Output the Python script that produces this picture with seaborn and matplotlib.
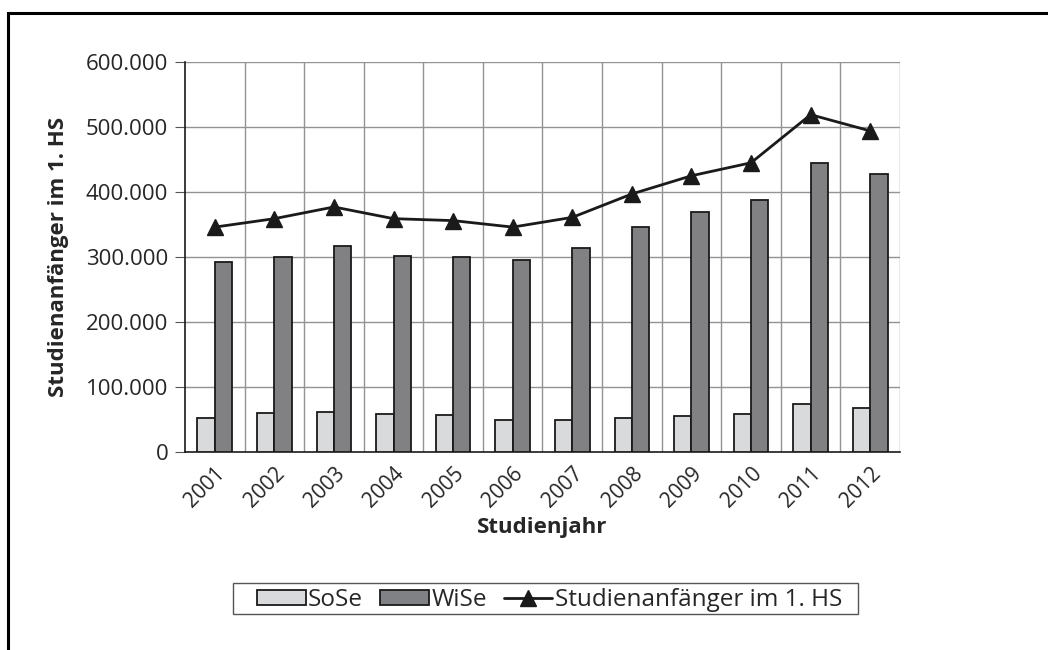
import pandas as pd
import seaborn as sns
import matplotlib.pyplot as plt
from matplotlib.patches import Patch, Rectangle
from matplotlib.lines import Line2D
from matplotlib.ticker import FuncFormatter, FixedLocator

jahre = ['2001', '2002', '2003', '2004', '2005', '2006',
         '2007', '2008', '2009', '2010', '2011', '2012']
sose = [53000, 60000, 61500, 58500, 56500, 50000,
        48500, 52000, 55500, 58000, 74000, 68000]
wise = [293000, 300500, 317000, 301000, 300000, 296000,
        314000, 345500, 369000, 387000, 445000, 428000]
gesamt = [346000, 359000, 377000, 359000, 356000, 346000,
          361000, 397000, 425000, 445000, 519000, 494000]

sns.set_style('white')
plt.rcParams['font.family'] = ['Open Sans', 'DejaVu Sans']

df = pd.DataFrame({'Jahr': jahre * 2,
                   'Wert': sose + wise,
                   'Semester': ['SoSe'] * len(jahre) + ['WiSe'] * len(jahre)})

farben = {'SoSe': '#d9dadc', 'WiSe': '#808184'}
fs = 16

fig = plt.figure(figsize=(10.48, 6.5), dpi=100)
ax = fig.add_axes([0.1765, 0.3046, 0.6823, 0.6])

sns.barplot(data=df, x='Jahr', y='Wert', hue='Semester', palette=farben,
            width=0.58, edgecolor='#1a1a1a', linewidth=1.3, ax=ax,
            legend=False, zorder=3)

ax.plot(range(len(jahre)), gesamt, color='#1a1a1a', lw=2,
        marker='^', markersize=12, zorder=4)

ax.set_xlim(-0.5, len(jahre) - 0.5)
ax.set_ylim(0, 600000)
ax.yaxis.set_major_locator(FixedLocator(range(0, 600001, 100000)))
ax.yaxis.set_major_formatter(FuncFormatter(lambda v, p: f'{int(v):,}'.replace(',', '.')))

# Gitter
for y in range(100000, 600001, 100000):
    ax.axhline(y, color='#939393', lw=1, zorder=1)
for i in range(len(jahre)):
    ax.axvline(i + 0.5, color='#939393', lw=1, zorder=1)

ax.set_xticks(range(len(jahre)))
ax.set_xticklabels(jahre, rotation=45, ha='right', rotation_mode='anchor')
ax.set_xticks([i - 0.5 for i in range(len(jahre) + 1)], minor=True)
ax.tick_params(axis='x', which='major', length=0, pad=8, labelsize=15)
ax.tick_params(axis='x', which='minor', length=7, color='#555555', width=1)
ax.tick_params(axis='y', which='major', length=7, color='#555555', labelsize=fs,
               left=True, pad=5)

for s in ['top', 'right']:
    ax.spines[s].set_visible(False)
ax.spines['left'].set_color('#1a1a1a')
ax.spines['bottom'].set_color('#1a1a1a')
ax.spines['left'].set_linewidth(1.2)
ax.spines['bottom'].set_linewidth(1.2)

ax.set_xlabel('Studienjahr', fontsize=fs, fontweight='bold', labelpad=4)
ax.set_ylabel('Studienanfänger im 1. HS', fontsize=fs, fontweight='bold', labelpad=12)

handles = [Patch(facecolor=farben['SoSe'], edgecolor='#1a1a1a', lw=1.3),
           Patch(facecolor=farben['WiSe'], edgecolor='#1a1a1a', lw=1.3),
           Line2D([], [], color='#1a1a1a', lw=2, marker='^', markersize=12)]
leg = fig.legend(handles, ['SoSe', 'WiSe', 'Studienanfänger im 1. HS'],
                 loc='center', bbox_to_anchor=(0.5245, 0.077), ncol=3,
                 fontsize=17.5, frameon=False,
                 handlelength=2.0, handleheight=0.6, handletextpad=0.1,
                 columnspacing=0.7, borderpad=0.2)

# Legendenrahmen (breiter als der Inhalt, wie im Original)
fig.add_artist(Rectangle((233 / 1048, 1 - 614 / 650), 625 / 1048, 31 / 650,
                         transform=fig.transFigure, fill=False,
                         edgecolor='#555555', lw=1))

# Rahmen
fig.add_artist(Rectangle((8 / 1048, -0.1), 1.2, 1 - 13 / 650 + 0.1,
                         transform=fig.transFigure, fill=False,
                         edgecolor='black', lw=2.2))

fig.savefig('out.png', dpi=100)
